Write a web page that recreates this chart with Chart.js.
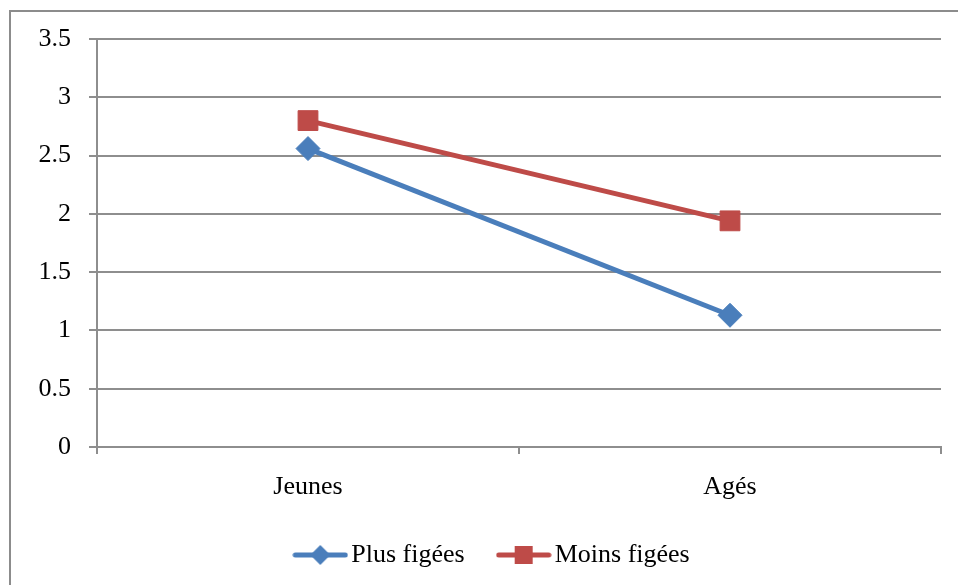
<!DOCTYPE html>
<html>
<head>
<meta charset="utf-8">
<script src="https://cdn.jsdelivr.net/npm/chart.js@4.4.0/dist/chart.umd.min.js"></script>
<style>
  html, body { margin: 0; padding: 0; background: #fff; overflow: hidden; }
  #wrap { position: relative; width: 958px; height: 585px; }
  #frame { position: absolute; left: 9px; top: 10px; width: 1000px; height: 1000px;
           border: 2px solid #8c8c8c; box-sizing: border-box; }
  #chart { position: absolute; left: 0; top: 0; }
</style>
</head>
<body>
<div id="wrap">
  <div id="frame"></div>
  <canvas id="chart" width="958" height="585"></canvas>
</div>
<script>
// data
const categories = [ 'Jeunes', 'Agés' ];
const plusFigees = [ 2.56, 1.13 ];
const moinsFigees = [ 2.80, 1.94 ];
const yTicks = [ 0, 0.5, 1, 1.5, 2, 2.5, 3, 3.5 ];

const blue = '#4A7EBB';
const red = '#BE4B48';
const gridGray = '#8e8e8e';
const font = { family: '"Liberation Serif", "Times New Roman", serif', size: 26 };

// legend swatch: line with marker in the middle
function legendSwatch(color, shape) {
  const c = document.createElement('canvas');
  c.width = 56;
  c.height = 20;
  const ctx = c.getContext('2d');
  ctx.strokeStyle = color;
  ctx.lineWidth = 5;
  ctx.lineCap = 'round';
  ctx.beginPath();
  ctx.moveTo(3, 10);
  ctx.lineTo(53, 10);
  ctx.stroke();
  ctx.fillStyle = color;
  if (shape === 'rect') {
    ctx.fillRect(28 - 9, 10 - 9, 18, 18);
  } else {
    ctx.beginPath();
    ctx.moveTo(28, 0);
    ctx.lineTo(38, 10);
    ctx.lineTo(28, 20);
    ctx.lineTo(18, 10);
    ctx.closePath();
    ctx.fill();
  }
  return c;
}
const swatches = [ legendSwatch(blue, 'rectRot'), legendSwatch(red, 'rect') ];

// nudge the legend a bit right, like the original
const legendShift = {
  id: 'legendShift',
  afterLayout(chart) {
    chart.legend.left += 25.5;
    chart.legend.right += 25.5;
  }
};

const data = {
  labels: categories,
  datasets: [ {
    label: 'Plus figées',
    data: plusFigees,
    borderColor: blue,
    backgroundColor: blue,
    borderWidth: 5,
    pointStyle: 'rectRot',
    pointRadius: 12,
    pointHoverRadius: 12,
    pointBorderWidth: 1,
    tension: 0
  }, {
    label: 'Moins figées',
    data: moinsFigees,
    borderColor: red,
    backgroundColor: red,
    borderWidth: 5,
    pointStyle: 'rect',
    pointRadius: 14,
    pointHoverRadius: 14,
    pointBorderWidth: 1,
    tension: 0
  } ]
};

const config = {
  type: 'line',
  data: data,
  plugins: [ legendShift ],
  options: {
    responsive: false,
    animation: false,
    events: [],
    layout: { padding: { top: 39, right: 17, bottom: 7, left: 0 } },
    scales: {
      x: {
        offset: true,
        grid: {
          offset: true,
          drawOnChartArea: false,
          drawTicks: true,
          tickLength: 7,
          color: gridGray,
          lineWidth: 2
        },
        border: { display: true, color: gridGray, width: 2 },
        ticks: { color: '#000', font: font, padding: 18, maxRotation: 0 },
        afterFit: function (scale) { scale.height = 54; }
      },
      y: {
        min: 0,
        max: 3.5,
        afterBuildTicks: function (scale) {
          scale.ticks = yTicks.map(v => ({ value: v }));
        },
        grid: { color: gridGray, lineWidth: 2, tickLength: 8 },
        border: { display: true, color: gridGray, width: 2 },
        ticks: {
          color: '#000',
          font: font,
          padding: 18,
          callback: v => String(v)
        },
        afterFit: function (scale) { scale.width = 97; }
      }
    },
    plugins: {
      tooltip: { enabled: false },
      legend: {
        position: 'bottom',
        labels: {
          color: '#000',
          font: font,
          padding: 41,
          usePointStyle: true,
          pointStyleWidth: 36,
          generateLabels: function (chart) {
            const items = Chart.defaults.plugins.legend.labels.generateLabels(chart);
            items.forEach((it, i) => { it.pointStyle = swatches[i]; });
            return items;
          }
        }
      }
    }
  }
};

const lineChart = new Chart(document.getElementById('chart'), config);
</script>
</body>
</html>
